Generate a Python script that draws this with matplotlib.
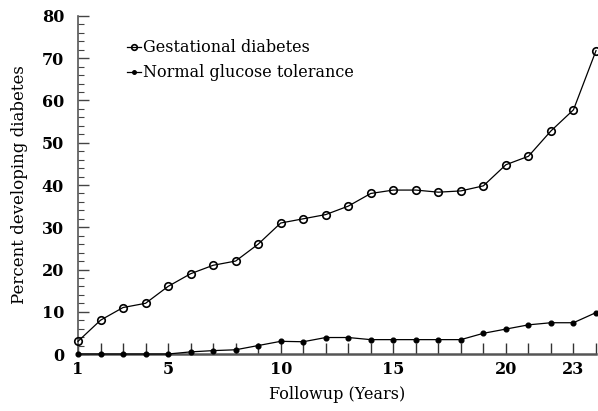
import matplotlib
matplotlib.use('Agg')
import matplotlib.pyplot as plt
from matplotlib.ticker import FixedLocator, MultipleLocator

# Dados
anos = list(range(1, 25))
gestacional = [3, 8, 11, 12, 16, 19, 21, 22, 26, 31, 32, 33, 35, 38, 38.8, 38.8,
               38.3, 38.6, 39.8, 44.8, 46.8, 52.8, 57.8, 71.8]
normal = [0, 0, 0, 0, 0, 0.5, 0.8, 1, 2, 3, 2.9, 3.9, 3.9, 3.4, 3.4, 3.4,
          3.4, 3.4, 4.9, 5.9, 6.9, 7.4, 7.4, 9.8]
rotulos_x = [1, 5, 10, 15, 20, 23]

plt.rcParams['font.family'] = ['DejaVu Serif']

fig = plt.figure(figsize=(5.98, 4.11), dpi=100)
ax = fig.add_axes([78 / 598, 57 / 411, 518 / 598, 338 / 411])

ax.plot(anos, gestacional, color='black', lw=0.9, marker='o', ms=5.4,
        mfc='none', mec='black', mew=1.2, clip_on=False, zorder=3,
        label='Gestational diabetes')
ax.plot(anos, normal, color='black', lw=0.9, marker='o', ms=3.4,
        mfc='black', mec='black', clip_on=False, zorder=3,
        label='Normal glucose tolerance')

ax.set_xlim(1, 24)
ax.set_ylim(0, 80)

ax.spines['top'].set_visible(False)
ax.spines['right'].set_visible(False)
ax.spines['left'].set_color('#555555')
ax.spines['left'].set_linewidth(1.2)
ax.spines['bottom'].set_color('#555555')
ax.spines['bottom'].set_linewidth(1.8)

# eixo x: marcas em todos os anos, rótulos só em alguns
ax.xaxis.set_major_locator(FixedLocator(anos))
ax.set_xticklabels([str(a) if a in rotulos_x else '' for a in anos])
ax.tick_params(axis='x', direction='in', length=8, width=1, color='#333333',
               labelsize=11.5, pad=5)
for lbl in ax.get_xticklabels():
    lbl.set_fontweight('bold')

ax.yaxis.set_major_locator(MultipleLocator(10))
ax.yaxis.set_minor_locator(MultipleLocator(2))
ax.tick_params(axis='y', which='major', direction='in', length=8, width=1,
               color='#444444', labelsize=11.5, pad=10)
ax.tick_params(axis='y', which='minor', direction='in', length=4.5, width=0.8,
               color='#444444')
for lbl in ax.get_yticklabels():
    lbl.set_fontweight('bold')

ax.set_xlabel('Followup (Years)', fontsize=11.5, labelpad=6)
ax.set_ylabel('Percent developing diabetes', fontsize=12, labelpad=10)

ax.legend(loc='upper left', bbox_to_anchor=(0.0815, 0.95), frameon=False,
          fontsize=11.5, handlelength=0.9, handletextpad=0.15,
          labelspacing=0.5, borderaxespad=0, markerscale=0.75)

fig.savefig('out.png', dpi=100)
